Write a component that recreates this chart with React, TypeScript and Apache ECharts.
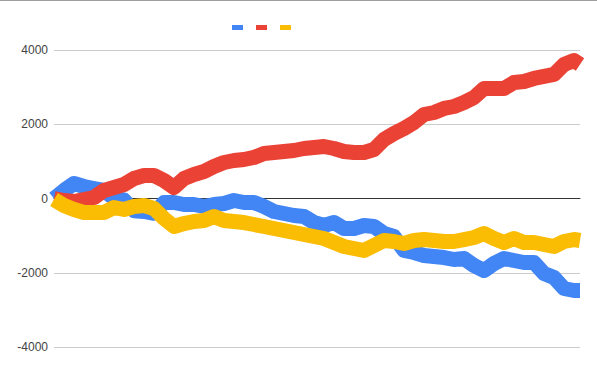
import React, { useEffect, useRef } from "react";
import * as echarts from "echarts";

// sample positions (sample index along the run)
const steps = [
  0, 1, 2, 3, 4, 5, 6, 7, 8, 9, 10, 11, 12, 13, 14, 15, 16, 17, 18, 19, 20,
  21, 22, 23, 24, 25, 26, 27, 28, 29, 30, 31, 32, 33, 34, 35, 36, 37, 38, 39,
  40, 41, 42, 43, 44, 45, 46, 47, 48, 49, 50, 51, 52, 52.6,
];

const blueValues = [
  0, 216, 404, 323, 269, 216, 0, -40, -330, -350, -400, -108, -108, -162,
  -162, -216, -162, -135, -54, -108, -108, -216, -350, -404, -458, -485, -647,
  -727, -647, -808, -808, -727, -754, -943, -1024, -1401, -1455, -1536, -1563,
  -1590, -1643, -1616, -1805, -1940, -1751, -1616, -1670, -1724, -1724, -2021,
  -2128, -2424, -2478, -2478,
];

const redValues = [
  0, -54, -81, -27, 27, 216, 296, 377, 539, 620, 620, 485, 296, 539, 647, 727,
  862, 970, 1024, 1051, 1105, 1212, 1239, 1266, 1293, 1347, 1374, 1401, 1347,
  1266, 1239, 1239, 1320, 1589, 1751, 1886, 2047, 2263, 2317, 2425, 2478, 2586,
  2721, 2963, 2963, 2963, 3125, 3152, 3233, 3287, 3341, 3610, 3718, 3610,
];

const yellowValues = [
  -27, -189, -296, -377, -377, -377, -242, -296, -216, -189, -269, -539, -754,
  -674, -620, -593, -485, -593, -620, -647, -700, -754, -808, -862, -916, -970,
  -1024, -1078, -1185, -1293, -1347, -1401, -1266, -1131, -1158, -1212, -1131,
  -1105, -1131, -1158, -1158, -1105, -1051, -943, -1078, -1185, -1078, -1185,
  -1185, -1239, -1293, -1158, -1105, -1131,
];

const yTicks = [-4000, -2000, 0, 2000, 4000];
const seriesNames = ["Series 1", "Series 2", "Series 3"];
const colors = ["#4285f4", "#ea4335", "#fbbc04"];

export default function App() {
  const ref = useRef<HTMLDivElement>(null);
  useEffect(() => {
    if (!ref.current) return;
    const chart = echarts.init(ref.current, null, { renderer: "svg" });
    const mk = (vals: number[]) => steps.map((s, i) => [s, vals[i]]);
    const allSeries = [blueValues, redValues, yellowValues];
    chart.setOption({
      animation: false,
      backgroundColor: "#ffffff",
      color: colors,
      textStyle: { fontFamily: "Arial, 'Liberation Sans', sans-serif" },
      legend: {
        data: seriesNames,
        top: 20,
        left: 227,
        icon: "rect",
        itemWidth: 11,
        itemHeight: 5,
        itemGap: 13,
        formatter: () => "",
        textStyle: { fontSize: 1 },
      },
      graphic: [
        {
          type: "rect",
          left: 0,
          top: 0,
          shape: { width: 597, height: 1 },
          style: { fill: "#9e9e9e" },
        },
      ],
      grid: { left: 54, right: 17, top: 50, bottom: 23 },
      xAxis: {
        type: "value",
        min: steps[0],
        max: steps[steps.length - 1],
        axisLabel: { show: false },
        axisTick: { show: false },
        splitLine: { show: false },
        axisLine: { show: true, onZero: true, lineStyle: { color: "#333333", width: 1 } },
      },
      yAxis: {
        type: "value",
        min: yTicks[0],
        max: yTicks[yTicks.length - 1],
        interval: 2000,
        axisLine: { show: false },
        axisTick: { show: false },
        axisLabel: {
          color: "#444444",
          fontSize: 12,
          margin: 6,
          formatter: (v: number) => String(v),
        },
        splitLine: { lineStyle: { color: "#cccccc", width: 1 } },
      },
      series: allSeries.map((vals, i) => ({
        name: seriesNames[i],
        type: "line",
        data: mk(vals),
        showSymbol: false,
        symbol: "none",
        lineStyle: { width: 15, color: colors[i], cap: "butt", join: "round" },
      })),
    });
    return () => chart.dispose();
  }, []);
  return (
    <div
      ref={ref}
      style={{ position: "fixed", left: 0, top: 0, width: 597, height: 370 }}
    />
  );
}
